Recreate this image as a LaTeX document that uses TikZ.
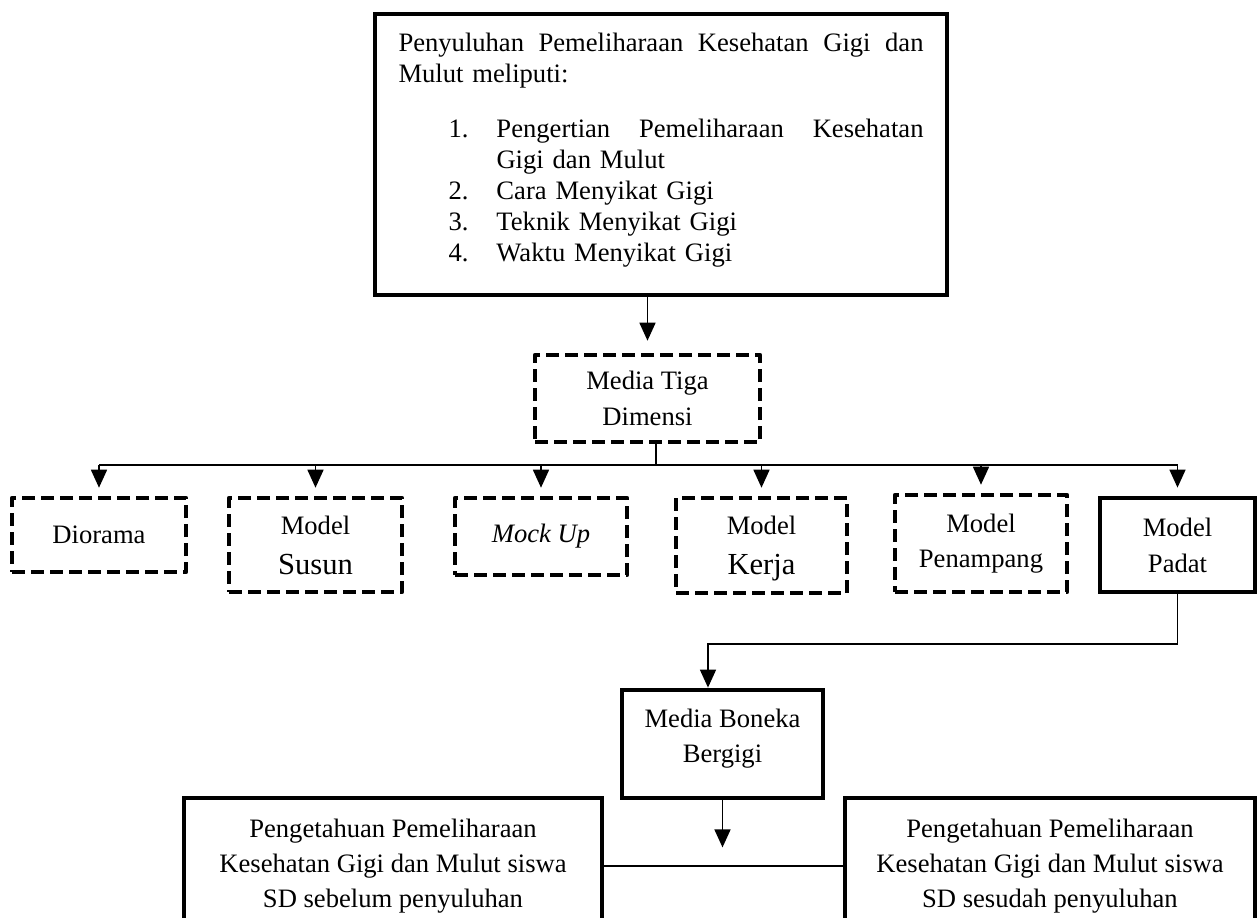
\documentclass[tikz,border=0pt]{standalone}
\usepackage{fontspec}
\setmainfont{Liberation Serif}
\usetikzlibrary{arrows.meta, positioning, calc}
\tikzset{
	solidbox/.style={rectangle, draw=black, line width=2.4pt, align=center, inner sep=0pt, font=\fontsize{13.3}{17.5}\selectfont},
	dashbox/.style ={rectangle, draw=black, line width=2.3pt, dash pattern=on 6.5pt off 3pt, line join=round, align=center, inner sep=0pt, font=\fontsize{13.3}{17.5}\selectfont},
	link/.style    ={line width=0.8pt},
	arr/.style     ={line width=0.8pt, -{Triangle[length=9pt, width=8pt]}},
}
\newcommand{\besar}[1]{{\fontsize{15.3}{16}\selectfont #1}}

\begin{document}
\begin{tikzpicture}[x=0.5pt, y=-0.5pt]
	\useasboundingbox (0,0) rectangle (1259,917);
	\clip (0,0) rectangle (1259,917);
	% materi penyuluhan
	\node[solidbox, minimum width=286pt, minimum height=140.5pt, text width=262.5pt, align=left, font=\fontsize{13.3}{15.5}\selectfont] (materi) at (661,154.5) {%
		\rule{0pt}{9.1pt}\hbox to 262.5pt{Penyuluhan\hfill Pemeliharaan\hfill Kesehatan\hfill Gigi\hfill dan}\\
		Mulut meliputi:\\[12pt]
		\hspace*{25pt}\makebox[24pt][l]{1.}\hbox to 213.5pt{Pengertian\hfill Pemeliharaan\hfill Kesehatan}\\
		\hspace*{49pt}Gigi dan Mulut\\
		\hspace*{25pt}\makebox[24pt][l]{2.}Cara Menyikat Gigi\\
		\hspace*{25pt}\makebox[24pt][l]{3.}Teknik Menyikat Gigi\\
		\hspace*{25pt}\makebox[24pt][l]{4.}Waktu Menyikat Gigi\rule[-7.6pt]{0pt}{0pt}};
	\node[dashbox, minimum width=112.5pt, minimum height=43.5pt, font=\fontsize{13.3}{18}\selectfont] (mtd) at (647.5,398.5) {Media Tiga\\Dimensi};
	% jenis media tiga dimensi
	\node[dashbox, minimum width=87pt, minimum height=37pt] (diorama) at (99,535) {Diorama};
	\node[dashbox, minimum width=86.5pt, minimum height=47pt] (susun) at (315.5,545) {Model\\[2.5pt]\besar{Susun}};
	\node[dashbox, minimum width=86pt, minimum height=38.5pt] (mockup) at (541,536.5) {\textit{Mock Up}};
	\node[dashbox, minimum width=85.5pt, minimum height=47.5pt] (kerja) at (761.5,545.5) {\rule{0pt}{12.6pt}Model\\[2.5pt]\besar{Kerja}};
	\node[dashbox, minimum width=86pt, minimum height=48.5pt] (penampang) at (981,543.5) {Model\\Penampang};
	\node[solidbox, minimum width=77.5pt, minimum height=47pt, font=\fontsize{13.3}{18}\selectfont] (padat) at (1177.5,545) {Model\\Padat};
	\node[solidbox, minimum width=100.5pt, minimum height=54pt] (boneka) at (722.5,744) {Media Boneka\\Bergigi\rule[-8.5pt]{0pt}{0pt}};
	% pengetahuan siswa
	\node[solidbox, minimum width=209pt, minimum height=68pt] (sebelum) at (393,866) {Pengetahuan Pemeliharaan\\Kesehatan Gigi dan Mulut siswa\\SD sebelum penyuluhan};
	\node[solidbox, minimum width=205pt, minimum height=68pt] (sesudah) at (1050,866) {Pengetahuan Pemeliharaan\\Kesehatan Gigi dan Mulut siswa\\SD sesudah penyuluhan};

	\coordinate (bus) at (656,465);
	\coordinate (belok) at (708,644);
	\coordinate[below=23.5pt of boneka.south] (ujung);

	\draw[arr, shorten >=6pt] (materi.south -| mtd.north) -- (mtd.north);
	\draw[link] (mtd.south -| bus) -- (bus);
	\draw[link] (diorama.north |- bus) -- (padat.north |- bus);
	\foreach \n in {diorama,susun,mockup,kerja,penampang,padat}
		\draw[arr, shorten >=4pt] (\n.north |- bus) -- (\n.north);
	\draw[arr] (padat.south) |- (belok) -- (belok |- boneka.north);
	\draw[arr] (boneka.south) -- (ujung);
	\draw[link] (sebelum) -- (sesudah);
\end{tikzpicture}
\end{document}
